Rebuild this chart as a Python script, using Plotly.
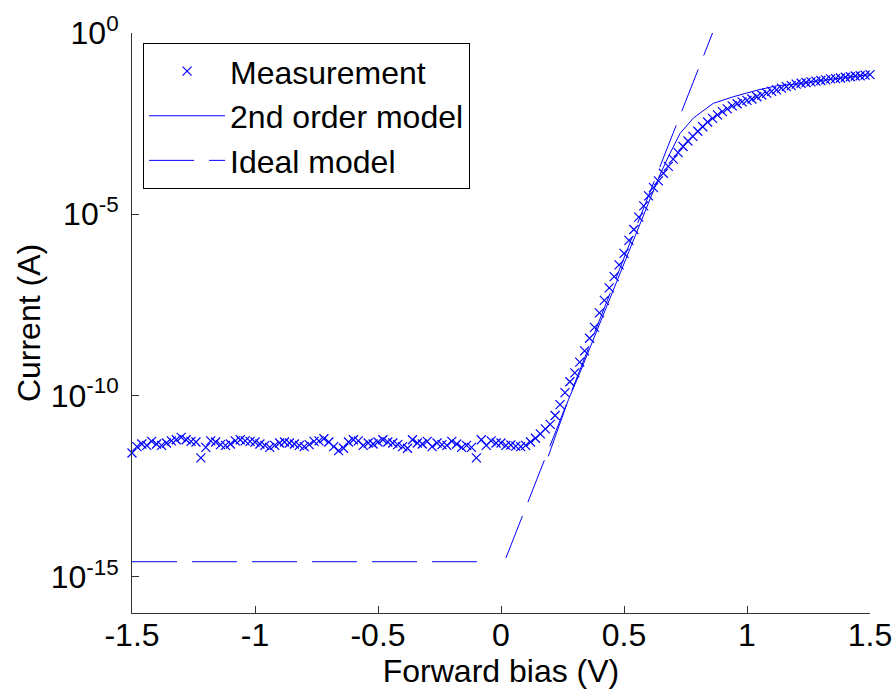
import plotly.graph_objects as go

# ---- data ----
bias = [
    -1.50, -1.48, -1.46, -1.44, -1.42, -1.40, -1.38, -1.36, -1.34, -1.32,
    -1.30, -1.28, -1.26, -1.24, -1.22, -1.20, -1.18, -1.16, -1.14, -1.12,
    -1.10, -1.08, -1.06, -1.04, -1.02, -1.00, -0.98, -0.96, -0.94, -0.92,
    -0.90, -0.88, -0.86, -0.84, -0.82, -0.80, -0.78, -0.76, -0.74, -0.72,
    -0.70, -0.68, -0.66, -0.64, -0.62, -0.60, -0.58, -0.56, -0.54, -0.52,
    -0.50, -0.48, -0.46, -0.44, -0.42, -0.40, -0.38, -0.36, -0.34, -0.32,
    -0.30, -0.28, -0.26, -0.24, -0.22, -0.20, -0.18, -0.16, -0.14, -0.12,
    -0.10, -0.08, -0.06, -0.04, -0.02, 0.00, 0.02, 0.04, 0.06, 0.08,
    0.10, 0.12, 0.14, 0.16, 0.18, 0.20, 0.22, 0.24, 0.26, 0.28,
    0.30, 0.32, 0.34, 0.36, 0.38, 0.40, 0.42, 0.44, 0.46, 0.48,
    0.50, 0.52, 0.54, 0.56, 0.58, 0.60, 0.62, 0.64, 0.66, 0.68,
    0.70, 0.72, 0.74, 0.76, 0.78, 0.80, 0.82, 0.84, 0.86, 0.88,
    0.90, 0.92, 0.94, 0.96, 0.98, 1.00, 1.02, 1.04, 1.06, 1.08,
    1.10, 1.12, 1.14, 1.16, 1.18, 1.20, 1.22, 1.24, 1.26, 1.28,
    1.30, 1.32, 1.34, 1.36, 1.38, 1.40, 1.42, 1.44, 1.46, 1.48,
    1.50,
]
measured_current = [
    2.6e-12, 3.9e-12, 4.6e-12, 4.2e-12, 5.4e-12, 4.6e-12, 4.2e-12, 4.9e-12, 5.6e-12, 6.0e-12,
    7.0e-12, 6.0e-12, 5.4e-12, 5.2e-12, 1.9e-12, 3.7e-12, 5.6e-12, 5.2e-12, 4.4e-12, 4.2e-12,
    4.6e-12, 5.6e-12, 6.0e-12, 5.6e-12, 5.4e-12, 5.2e-12, 4.6e-12, 4.2e-12, 3.7e-12, 4.2e-12,
    4.9e-12, 5.2e-12, 4.9e-12, 4.6e-12, 4.2e-12, 3.9e-12, 4.4e-12, 5.4e-12, 5.6e-12, 6.4e-12,
    5.2e-12, 3.9e-12, 3.0e-12, 3.5e-12, 5.2e-12, 6.0e-12, 5.6e-12, 4.2e-12, 4.9e-12, 4.6e-12,
    5.2e-12, 6.0e-12, 5.2e-12, 4.9e-12, 4.4e-12, 3.9e-12, 3.5e-12, 6.0e-12, 4.9e-12, 4.6e-12,
    5.4e-12, 3.9e-12, 4.9e-12, 4.4e-12, 4.2e-12, 5.4e-12, 4.6e-12, 3.7e-12, 4.2e-12, 3.7e-12,
    1.9e-12, 6.0e-12, 4.2e-12, 5.6e-12, 4.9e-12, 4.9e-12, 4.2e-12, 4.3e-12, 4.0e-12, 3.9e-12,
    4.2e-12, 5.2e-12, 6.6e-12, 8.7e-12, 1.2e-11, 1.6e-11, 2.8e-11, 5.6e-11, 1.2e-10, 2.4e-10,
    4.2e-10, 8.3e-10, 1.7e-9, 3.8e-9, 7.6e-9, 1.9e-8, 4.2e-8, 9.3e-8, 1.9e-7, 4.0e-7,
    8.3e-7, 1.9e-6, 3.8e-6, 8.3e-6, 1.7e-5, 3.2e-5, 5.4e-5, 8.3e-5, 1.35e-4, 2.1e-4,
    3.3e-4, 5.0e-4, 7.4e-4, 1.05e-3, 1.4e-3, 1.95e-3, 2.6e-3, 3.5e-3, 4.4e-3, 5.5e-3,
    6.8e-3, 8.1e-3, 9.8e-3, 1.12e-2, 1.26e-2, 1.38e-2, 1.51e-2, 1.74e-2, 1.95e-2, 2.19e-2,
    2.45e-2, 2.69e-2, 3.0e-2, 3.3e-2, 3.55e-2, 3.9e-2, 4.1e-2, 4.3e-2, 4.5e-2, 4.7e-2,
    4.9e-2, 5.1e-2, 5.4e-2, 5.5e-2, 5.75e-2, 6.0e-2, 6.2e-2, 6.5e-2, 6.6e-2, 6.9e-2,
    7.1e-2,
]

model2_bias = [0.192, 0.226, 0.274, 0.321, 0.375, 0.430, 0.484, 0.538, 0.599,
               0.646, 0.687, 0.728, 0.782, 0.863, 0.944, 1.046, 1.121,
               1.20, 1.30, 1.40, 1.50]
model2_current = [2.1e-12, 9.1e-12, 7.6e-11, 4.3e-10, 3.5e-9, 2.8e-8, 2.4e-7, 1.95e-6, 2.0e-5,
                  1.23e-4, 4.8e-4, 1.7e-3, 4.5e-3, 1.15e-2, 1.74e-2, 2.7e-2, 3.5e-2,
                  3.9e-2, 4.9e-2, 6.0e-2, 7.1e-2]

ideal_bias = [-1.50, -0.06, None, 0.02, 0.86]
ideal_current = [2.6e-15, 2.6e-15, None, 3.3e-15, 1.0]

x_ticks = [-1.5, -1, -0.5, 0, 0.5, 1, 1.5]
x_tick_text = ["-1.5", "-1", "-0.5", "0", "0.5", "1", "1.5"]
y_ticks = [1e-15, 1e-10, 1e-5, 1e0]
y_tick_text = ["10<sup>-15</sup>", "10<sup>-10</sup>", "10<sup>-5</sup>", "10<sup>0</sup>"]

BLUE = "#0000ff"
AXC = "#333333"
FONT = "Liberation Sans, Arial, sans-serif"
FS = 32

fig = go.Figure()
fig.add_trace(go.Scatter(
    x=bias, y=measured_current, mode="markers", name="Measurement",
    marker=dict(symbol="x-thin", size=9, line=dict(color=BLUE, width=1.2), color=BLUE),
    cliponaxis=False,
))
fig.add_trace(go.Scatter(
    x=model2_bias, y=model2_current, mode="lines", name="2nd order model",
    line=dict(color=BLUE, width=1),
))
fig.add_trace(go.Scatter(
    x=ideal_bias, y=ideal_current, mode="lines", name="Ideal model",
    line=dict(color=BLUE, width=1, dash="45px,15px"), connectgaps=False,
))

fig.update_layout(
    width=896, height=694,
    margin=dict(l=132, r=26, t=33, b=81, autoexpand=False),
    paper_bgcolor="white", plot_bgcolor="white",
    font=dict(family=FONT, size=FS, color="black"),
    showlegend=True,
    legend=dict(
        x=0.015, y=0.983, xanchor="left", yanchor="top",
        bgcolor="white", bordercolor="black", borderwidth=1,
        font=dict(family=FONT, size=FS, color="black"),
        itemwidth=76, tracegroupgap=0,
    ),
)
fig.update_xaxes(
    range=[-1.5, 1.5], tickmode="array", tickvals=x_ticks, ticktext=x_tick_text,
    ticks="inside", ticklen=7, tickcolor=AXC, tickwidth=1,
    showline=True, linecolor=AXC, linewidth=1, mirror=False,
    showgrid=False, zeroline=False, automargin=False,
    tickfont=dict(family=FONT, size=FS), ticklabelstandoff=-6,
    title=dict(text="Forward bias (V)", font=dict(family=FONT, size=FS), standoff=0),
)
fig.update_yaxes(
    type="log", range=[-16, 0], tickmode="array", tickvals=y_ticks, ticktext=y_tick_text,
    ticks="inside", ticklen=7, tickcolor=AXC, tickwidth=1,
    showline=True, linecolor=AXC, linewidth=1, mirror=False,
    showgrid=False, zeroline=False, automargin=False,
    tickfont=dict(family=FONT, size=FS), ticklabelstandoff=6,
    title=dict(text="Current (A)", font=dict(family=FONT, size=FS), standoff=0),
)

fig.write_html("out.html")
